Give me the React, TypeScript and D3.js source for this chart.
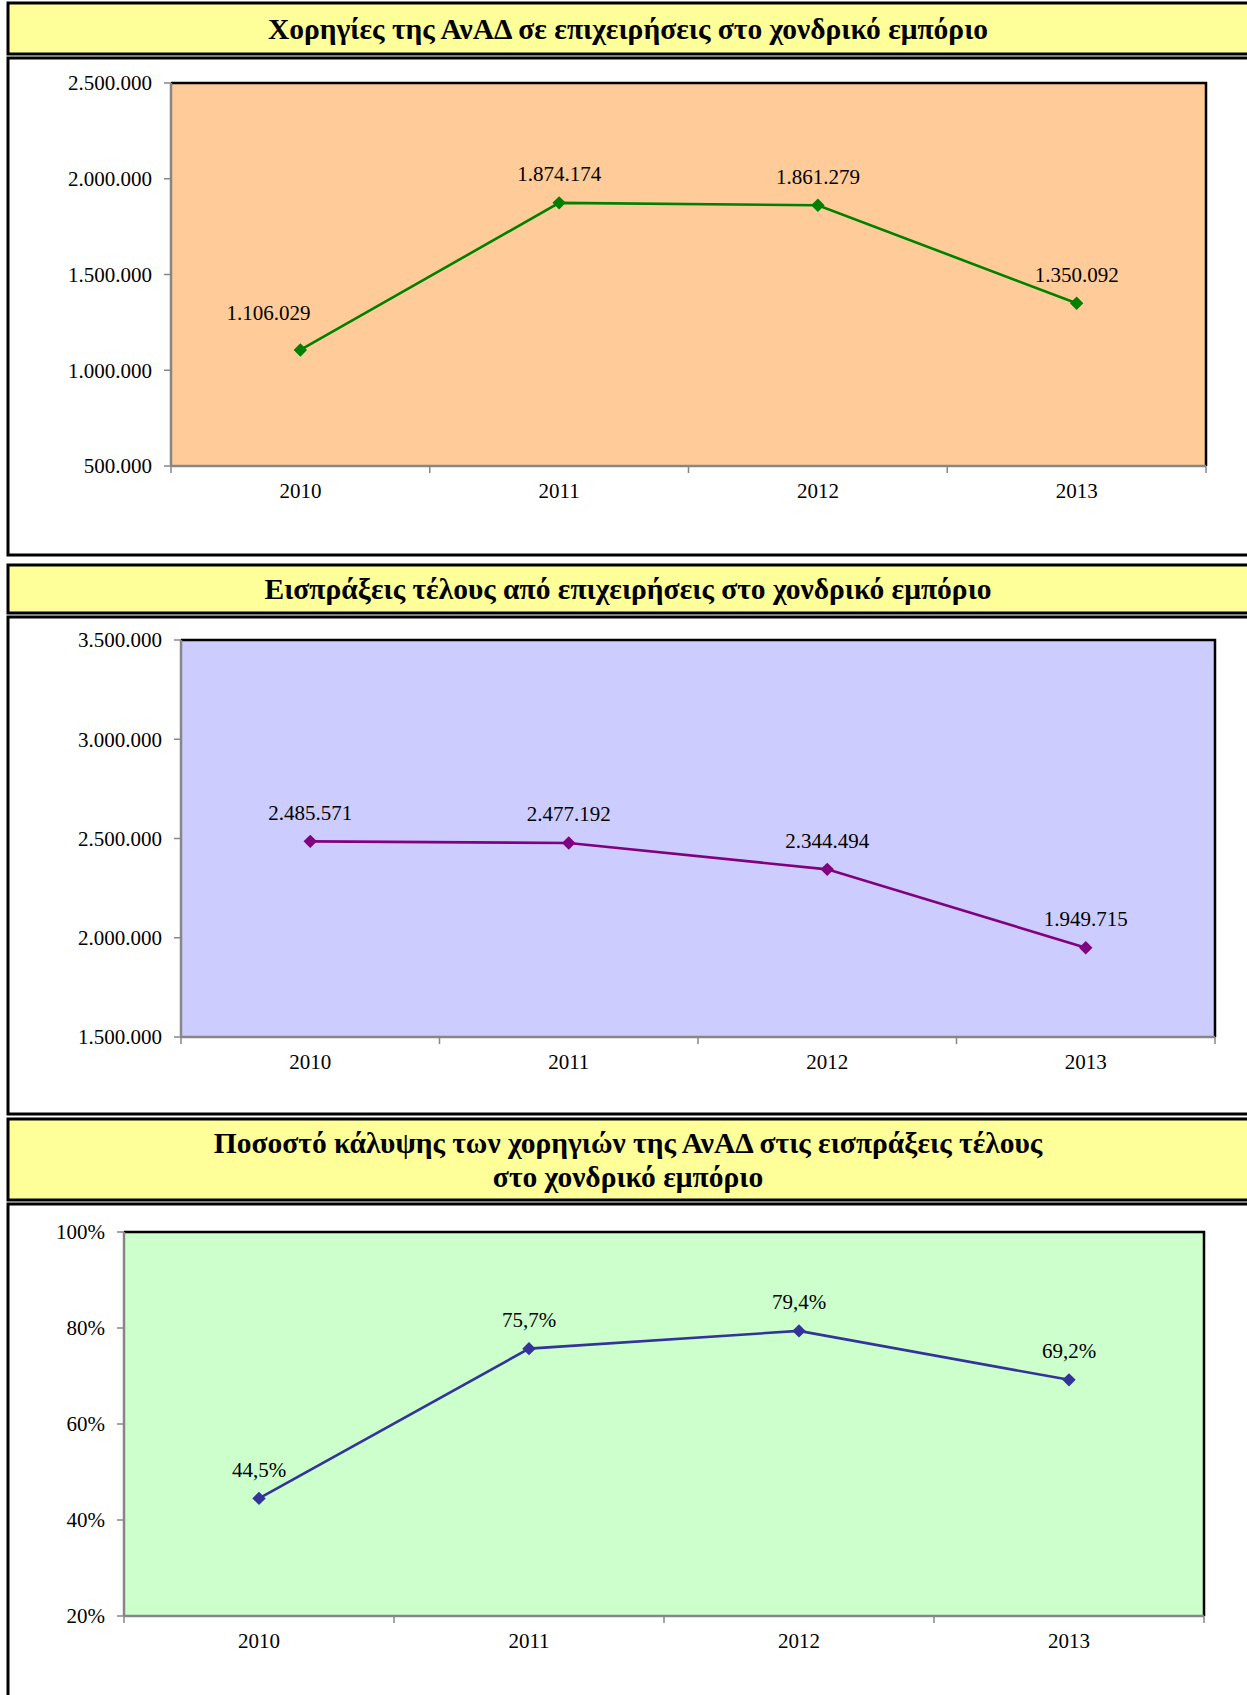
import React from 'react';
import * as d3 from 'd3';

// ---- Data ----
const years = ['2010', '2011', '2012', '2013'];
const grantValues = [1106029, 1874174, 1861279, 1350092];
const feeValues = [2485571, 2477192, 2344494, 1949715];
const coverageValues = [0.445, 0.757, 0.794, 0.692];

const grantTicks = [500000, 1000000, 1500000, 2000000, 2500000];
const feeTicks = [1500000, 2000000, 2500000, 3000000, 3500000];
const coverageTicks = [0.2, 0.4, 0.6, 0.8, 1.0];

const title1 = ['Χορηγίες της ΑνΑΔ σε επιχειρήσεις στο χονδρικό εμπόριο'];
const title2 = ['Εισπράξεις τέλους από επιχειρήσεις στο χονδρικό εμπόριο'];
const title3 = ['Ποσοστό κάλυψης των χορηγιών της ΑνΑΔ στις εισπράξεις τέλους', 'στο χονδρικό εμπόριο'];

const locale = d3.formatLocale({
  decimal: ',',
  thousands: '.',
  grouping: [3],
  currency: ['', ' €'],
  percent: '%',
} as any);
const fmtInt = locale.format(',d');
const fmtPct0 = locale.format('.0%');
const fmtPct1 = locale.format('.1%');

const FONT = '"Liberation Serif", "Times New Roman", serif';

type ChartCfg = {
  values: number[];
  ticks: number[];
  left: number;
  right: number;
  top: number;
  bottom: number;
  bg: string;
  color: string;
  tickFmt: (v: number) => string;
  labelFmt: (v: number) => string;
  labelOffsets: [number, number][];
};

function LineChart({ cfg }: { cfg: ChartCfg }) {
  const x = d3.scaleBand<string>().domain(years).range([cfg.left, cfg.right]).padding(0);
  const y = d3
    .scaleLinear()
    .domain([cfg.ticks[0], cfg.ticks[cfg.ticks.length - 1]])
    .range([cfg.bottom, cfg.top]);
  const cx = (d: string) => (x(d) as number) + x.bandwidth() / 2;
  const line = d3
    .line<number>()
    .x((_, i) => cx(years[i]))
    .y((v) => y(v));
  const diamond = d3.symbol().type(d3.symbolSquare).size(90)();
  const boundaries = [...years.map((d) => x(d) as number), cfg.right];
  const axisGray = '#868686';
  return (
    <g>
      <rect
        x={cfg.left}
        y={cfg.top}
        width={cfg.right - cfg.left}
        height={cfg.bottom - cfg.top}
        fill={cfg.bg}
      />
      {/* top & right borders */}
      <path
        d={`M${cfg.left},${cfg.top}H${cfg.right}V${cfg.bottom}`}
        fill="none"
        stroke="#000"
        strokeWidth={2.5}
      />
      {/* y axis */}
      <line x1={cfg.left} x2={cfg.left} y1={cfg.top} y2={cfg.bottom} stroke={axisGray} strokeWidth={2.5} />
      {cfg.ticks.map((t) => (
        <g key={t}>
          <line x1={cfg.left - 7} x2={cfg.left} y1={y(t)} y2={y(t)} stroke={axisGray} strokeWidth={1.5} />
          <text
            x={cfg.left - 19}
            y={y(t)}
            dy="0.35em"
            textAnchor="end"
            fontFamily={FONT}
            fontSize={21}
            fill="#000"
          >
            {cfg.tickFmt(t)}
          </text>
        </g>
      ))}
      {/* x axis */}
      <line x1={cfg.left} x2={cfg.right} y1={cfg.bottom} y2={cfg.bottom} stroke={axisGray} strokeWidth={2.5} />
      {boundaries.map((b, i) => (
        <line key={i} x1={b} x2={b} y1={cfg.bottom} y2={cfg.bottom + 7} stroke={axisGray} strokeWidth={1.5} />
      ))}
      {years.map((d) => (
        <text
          key={d}
          x={cx(d)}
          y={cfg.bottom + 25}
          dy="0.35em"
          textAnchor="middle"
          fontFamily={FONT}
          fontSize={21}
          fill="#000"
        >
          {d}
        </text>
      ))}
      {/* series */}
      <path d={line(cfg.values) || ''} fill="none" stroke={cfg.color} strokeWidth={2.6} />
      {cfg.values.map((v, i) => (
        <path
          key={i}
          d={diamond || ''}
          transform={`translate(${cx(years[i])},${y(v)}) rotate(45)`}
          fill={cfg.color}
        />
      ))}
      {cfg.values.map((v, i) => (
        <text
          key={'l' + i}
          x={cx(years[i]) + cfg.labelOffsets[i][0]}
          y={y(v) + cfg.labelOffsets[i][1]}
          dy="0.35em"
          textAnchor="middle"
          fontFamily={FONT}
          fontSize={21}
          fill="#000"
        >
          {cfg.labelFmt(v)}
        </text>
      ))}
    </g>
  );
}

function TitleBox({ y0, y1, lines, lineGap }: { y0: number; y1: number; lines: string[]; lineGap: number }) {
  const mid = (y0 + y1) / 2;
  const start = mid - ((lines.length - 1) * lineGap) / 2;
  return (
    <g>
      <rect x={8} y={y0} width={1300} height={y1 - y0} fill="#FFFF99" stroke="#000" strokeWidth={3} />
      {lines.map((l, i) => (
        <text
          key={i}
          x={628}
          y={start + i * lineGap}
          dy="0.35em"
          textAnchor="middle"
          fontFamily={FONT}
          fontWeight="bold"
          fontSize={29.5}
          fill="#000"
        >
          {l}
        </text>
      ))}
    </g>
  );
}

function Frame({ y0, y1 }: { y0: number; y1: number }) {
  return <rect x={8} y={y0} width={1300} height={y1 - y0} fill="#fff" stroke="#000" strokeWidth={3} />;
}

const std: [number, number][] = [
  [0, -29],
  [0, -29],
  [0, -29],
  [0, -29],
];

export default function App() {
  const c1: ChartCfg = {
    values: grantValues,
    ticks: grantTicks,
    left: 171,
    right: 1206,
    top: 83,
    bottom: 466,
    bg: '#FFCC99',
    color: '#008000',
    tickFmt: fmtInt,
    labelFmt: fmtInt,
    labelOffsets: [[-32, -37], [0, -29], [0, -29], [0, -29]],
  };
  const c2: ChartCfg = {
    values: feeValues,
    ticks: feeTicks,
    left: 181,
    right: 1215,
    top: 640,
    bottom: 1037,
    bg: '#CCCCFF',
    color: '#800080',
    tickFmt: fmtInt,
    labelFmt: fmtInt,
    labelOffsets: std,
  };
  const c3: ChartCfg = {
    values: coverageValues,
    ticks: coverageTicks,
    left: 124,
    right: 1204,
    top: 1232,
    bottom: 1616,
    bg: '#CCFFCC',
    color: '#333399',
    tickFmt: fmtPct0,
    labelFmt: fmtPct1,
    labelOffsets: std,
  };
  return (
    <svg
      width={1247}
      height={1695}
      style={{ position: 'absolute', left: 0, top: 0, display: 'block', background: '#fff' }}
    >
      <TitleBox y0={3} y1={54} lines={title1} lineGap={34} />
      <Frame y0={58} y1={555} />
      <LineChart cfg={c1} />

      <TitleBox y0={565} y1={613} lines={title2} lineGap={34} />
      <Frame y0={617} y1={1114} />
      <LineChart cfg={c2} />

      <TitleBox y0={1119} y1={1200} lines={title3} lineGap={34} />
      <Frame y0={1204} y1={1710} />
      <LineChart cfg={c3} />
    </svg>
  );
}
